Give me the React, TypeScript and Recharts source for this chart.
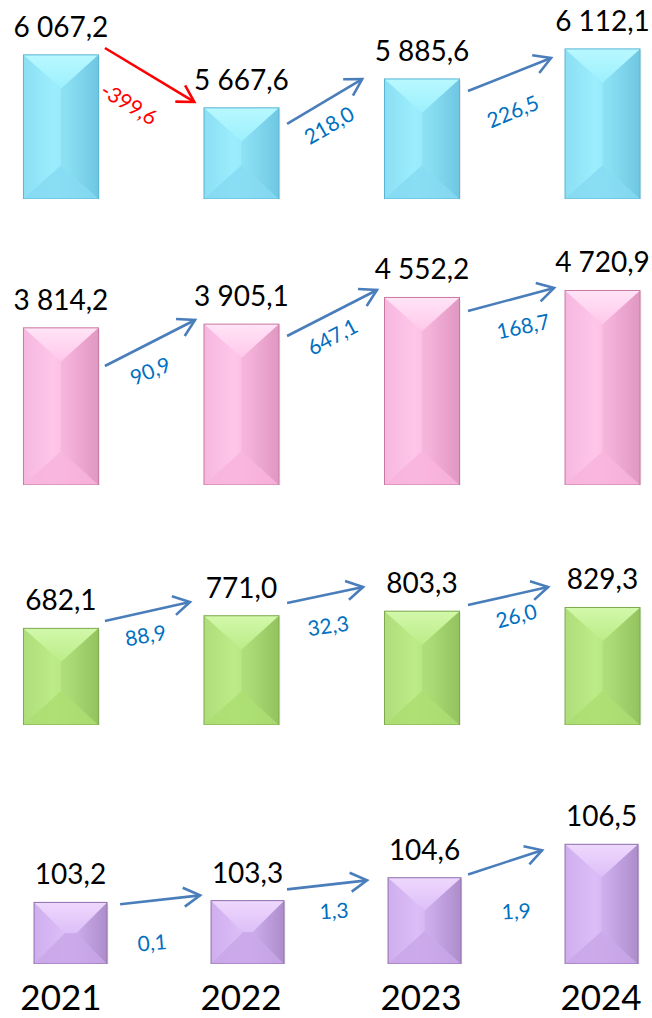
import React from 'react';
import { BarChart, Bar, XAxis, YAxis, LabelList, ReferenceLine } from 'recharts';

// values per year, four stacked panels
const YEARS = [2021, 2022, 2023, 2024];
const PANEL_A = [6067.2, 5667.6, 5885.6, 6112.1];
const PANEL_B = [3814.2, 3905.1, 4552.2, 4720.9];
const PANEL_C = [682.1, 771.0, 803.3, 829.3];
const PANEL_D = [103.2, 103.3, 104.6, 106.5];

const X_DOMAIN = [2020.78, 2024.22];
// year captions sit on a slightly different grid than the last panel's bars
const YEAR_DOMAIN = [2020.837, 2024.219];

// "6 067,2" style number
const fmt = (v: number) => {
  const [i, d] = Math.abs(v).toFixed(1).split('.');
  return (v < 0 ? '-' : '') + i.replace(/\B(?=(\d{3})+(?!\d))/g, ' ') + ',' + d;
};

const PALETTES: Record<string, { face: string[]; top: string[]; bottom: string; edge: string }> = {
  cyan: { face: ['#86ddf3', '#97edfd', '#8fe6fa', '#72cdea'], top: ['#b8f8ff', '#9cf0fd'], bottom: '#86daf1', edge: '#5ab5d4' },
  pink: { face: ['#f6b4de', '#ffc3e8', '#fcb7e0', '#e89dc9'], top: ['#ffe4f7', '#ffc8ea'], bottom: '#f7b4dc', edge: '#c9799f' },
  green: { face: ['#abdc74', '#b9ea81', '#b1e37a', '#98c962'], top: ['#d2f8aa', '#bcec88'], bottom: '#abdd73', edge: '#7fa94f' },
  purple: { face: ['#ccaaed', '#dbbaf7', '#d2b0f1', '#b292d1'], top: ['#eed8fd', '#dcbff8'], bottom: '#c8a6e7', edge: '#8e6fae' },
};

function BevelBar(props: any) {
  const { x, y, width: w, height: h, pal } = props;
  if (!h || h <= 0) return null;
  const c = PALETTES[pal];
  const ix = Math.min(w / 2, h / 2);
  const iy = Math.min(w * 0.45, h / 2);
  const pts = (a: number[][]) => a.map((p) => p.join(',')).join(' ');
  const TL = [x, y], TR = [x + w, y], BR = [x + w, y + h], BL = [x, y + h];
  const TLi = [x + ix, y + iy], TRi = [x + w - ix, y + iy];
  const BLi = [x + ix, y + h - iy], BRi = [x + w - ix, y + h - iy];
  return (
    <g>
      <rect x={x + 1.5} y={y + 1.5} width={w} height={h} fill="#000" opacity={0.07} />
      <rect x={x} y={y} width={w} height={h} fill={`url(#face-${pal})`} />
      <polygon points={pts([TL, TLi, BLi, BL])} fill="#fff" opacity={0.05} />
      <polygon points={pts([TR, TRi, BRi, BR])} fill="#000" opacity={0.03} />
      <polygon points={pts([TL, TR, TRi, TLi])} fill={`url(#top-${pal})`} />
      <polygon points={pts([BL, BR, BRi, BLi])} fill={c.bottom} opacity={0.8} />
      <rect x={x} y={y} width={w} height={h} fill="none" stroke={c.edge} strokeWidth={1} />
    </g>
  );
}

function Arrow(props: any) {
  const { x1, y1, x2, y2, color, text, textColor, dx, dy, rot } = props;
  const ang = Math.atan2(y2 - y1, x2 - x1);
  const L = 19;
  const a = Math.PI / 6;
  const w1 = [x2 - L * Math.cos(ang - a), y2 - L * Math.sin(ang - a)];
  const w2 = [x2 - L * Math.cos(ang + a), y2 - L * Math.sin(ang + a)];
  const mx = (x1 + x2) / 2 + dx;
  const my = (y1 + y2) / 2 + dy;
  return (
    <g>
      <line x1={x1} y1={y1} x2={x2} y2={y2} stroke={color} strokeWidth={2.6} />
      <polyline
        points={`${w1.join(',')} ${x2},${y2} ${w2.join(',')}`}
        fill="none"
        stroke={color}
        strokeWidth={2.6}
      />
      <text
        x={mx}
        y={my}
        transform={`rotate(${rot} ${mx} ${my})`}
        textAnchor="middle"
        dominantBaseline="central"
        fontSize={21}
        fill={textColor}
      >
        {text}
      </text>
    </g>
  );
}

// arrow ends in chart coordinates (year, value) and diff label offset/rotation
const PANELS = [
  {
    values: PANEL_A, pal: 'cyan', top: 0, height: 215, margin: { top: 24, right: 10, bottom: 16, left: 21 },
    yDomain: [4980, 6300], barSize: 75,
    arrows: [
      { x: [2021.245, 2021.74], y: [6119, 5712], label: [-20, 28, 31] },
      { x: [2022.254, 2022.67], y: [5546, 5885], label: [4, 23, -30] },
      { x: [2023.256, 2023.716], y: [5795, 6043], label: [3, 36, -22] },
    ],
  },
  {
    values: PANEL_B, pal: 'pink', top: 215, height: 285, margin: { top: 64, right: 10, bottom: 15, left: 21 },
    yDomain: [0, 5000], barSize: 75,
    arrows: [
      { x: [2021.245, 2021.744], y: [2888, 4005], label: [0, 27, -22] },
      { x: [2022.254, 2022.752], y: [3617, 4733], label: [0, 23, -28] },
      { x: [2023.256, 2023.733], y: [4223, 4782], label: [12, 26, -12] },
    ],
  },
  {
    values: PANEL_C, pal: 'green', top: 500, height: 240, margin: { top: 83.3, right: 10, bottom: 15, left: 21 },
    yDomain: [0, 1000], barSize: 75,
    arrows: [
      { x: [2021.245, 2021.716], y: [734, 868], label: [-2, 23, -10] },
      { x: [2022.254, 2022.675], y: [861, 974], label: [3, 30, -8] },
      { x: [2023.256, 2023.7], y: [847, 974], label: [8, 19, -15] },
    ],
  },
  {
    values: PANEL_D, pal: 'purple', top: 740, height: 278, margin: { top: 95.5, right: 11.5, bottom: 0, left: 31.6 },
    yDomain: [99.7, 107], barSize: 73, years: true,
    arrows: [
      { x: [2021.28, 2021.732], y: [103.09, 103.6], label: [-8, 42, -5] },
      { x: [2022.223, 2022.675], y: [103.94, 104.45], label: [7, 25, -3] },
      { x: [2023.246, 2023.664], y: [104.79, 106.16], label: [11, 48, -3] },
    ],
  },
];

function Panel({ p }: { p: any }) {
  const rows = YEARS.map((year, i) => ({ year, value: p.values[i] }));
  return (
    <div style={{ position: 'absolute', left: 0, top: p.top }}>
      <BarChart width={652} height={p.height} data={rows} margin={p.margin}>
        <XAxis
          dataKey="year"
          type="number"
          domain={X_DOMAIN}
          allowDataOverflow
          tick={false}
          tickLine={false}
          axisLine={{ stroke: '#000', strokeWidth: 2.6 }}
          height={0}
        />
        {p.years && (
          <XAxis
            xAxisId="years"
            dataKey="year"
            type="number"
            domain={YEAR_DOMAIN}
            allowDataOverflow
            ticks={YEARS}
            interval={0}
            tick={{ fontSize: 35, fill: '#000', fontFamily: 'Lato' }}
            tickLine={false}
            tickSize={0}
            tickMargin={21}
            axisLine={false}
            height={54}
          />
        )}
        <YAxis hide domain={p.yDomain} allowDataOverflow />
        <Bar
          dataKey="value"
          barSize={p.barSize}
          isAnimationActive={false}
          shape={(s: any) => <BevelBar {...s} pal={p.pal} />}
        >
          <LabelList
            dataKey="value"
            position="top"
            offset={18}
            formatter={(v: any) => fmt(Number(v))}
            fill="#000"
            fontSize={28}
            fontFamily="Lato"
          />
        </Bar>
        {p.arrows.map((a: any, i: number) => {
          const diff = p.values[i + 1] - p.values[i];
          const neg = diff < 0;
          return (
            <ReferenceLine
              key={i}
              segment={[{ x: a.x[0], y: a.y[0] }, { x: a.x[1], y: a.y[1] }]}
              ifOverflow="visible"
              shape={(s: any) => (
                <Arrow
                  {...s}
                  color={neg ? '#ff0000' : '#4a7ebb'}
                  textColor={neg ? '#ff0000' : '#0070c0'}
                  text={fmt(diff)}
                  dx={a.label[0]}
                  dy={a.label[1]}
                  rot={a.label[2]}
                />
              )}
            />
          );
        })}
      </BarChart>
    </div>
  );
}

export default function App() {
  return (
    <div style={{ position: 'absolute', left: 0, top: 0, width: 652, height: 1018, background: '#fff', fontFamily: 'Lato' }}>
      <svg width={0} height={0} style={{ position: 'absolute' }}>
        <defs>
          {Object.entries(PALETTES).map(([k, c]) => (
            <React.Fragment key={k}>
              <linearGradient id={`face-${k}`} x1="0" y1="0" x2="1" y2="0">
                <stop offset="0" stopColor={c.face[0]} />
                <stop offset="0.4" stopColor={c.face[1]} />
                <stop offset="0.6" stopColor={c.face[2]} />
                <stop offset="1" stopColor={c.face[3]} />
              </linearGradient>
              <linearGradient id={`top-${k}`} x1="0" y1="0" x2="0" y2="1">
                <stop offset="0" stopColor={c.top[0]} />
                <stop offset="1" stopColor={c.top[1]} />
              </linearGradient>
            </React.Fragment>
          ))}
        </defs>
      </svg>
      {PANELS.map((p, i) => (
        <Panel key={i} p={p} />
      ))}
    </div>
  );
}
